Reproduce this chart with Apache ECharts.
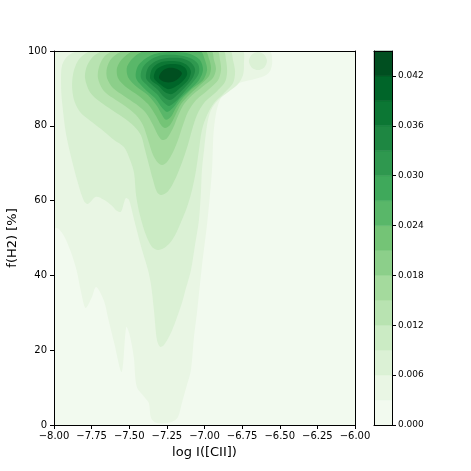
<!DOCTYPE html>
<html>
<head>
<meta charset="utf-8">
<script src="https://cdn.jsdelivr.net/npm/echarts@6/dist/echarts.min.js"></script>
<style>
  html, body { margin: 0; padding: 0; background: #fff; }
  #chart { width: 471px; height: 471px; }
</style>
</head>
<body>
<div id="chart"></div>
<script>
// contour levels (density), one band per pair of neighbouring levels
const levels = [0, 0.003, 0.006, 0.009, 0.012, 0.015, 0.018, 0.021, 0.024, 0.027, 0.030, 0.033, 0.036, 0.039, 0.042, 0.045]
const cbTicks = [0, 0.006, 0.012, 0.018, 0.024, 0.030, 0.036, 0.042]
const xTicks = [-8, -7.75, -7.5, -7.25, -7, -6.75, -6.5, -6.25, -6]

// Greens colormap, sampled at band midpoints
const bandColors = ['#f2faef', '#e9f6e4', '#dbf1d5', '#cbebc4', '#b8e3b1', '#a4da9d', '#8ccf8a', '#74c476',
  '#59b769', '#3fa95b', '#2f984f', '#1e8742', '#0c7734', '#006529', '#004f20']

// contour outlines: [log I([CII]), f(H2) %]
const level1 = [[-7.99, 100], [-6.57, 100], [-6.55, 97.6], [-6.56, 95.0], [-6.59, 93.6], [-6.66, 92.6], [-6.76, 91.6],
  [-6.84, 89.8], [-6.89, 87.5], [-6.92, 84.0], [-6.94, 78.0], [-6.95, 68.2], [-6.98, 54.8], [-7.02, 41.4], [-7.05, 30.0],
  [-7.07, 23.5], [-7.09, 14.7], [-7.12, 10.2], [-7.15, 5.9], [-7.18, 1.9], [-7.24, 0.6], [-7.32, 0.6], [-7.355, 1.9],
  [-7.37, 5.9], [-7.40, 7.5], [-7.45, 10.2], [-7.47, 18.2], [-7.50, 24.5], [-7.52, 26.2], [-7.55, 14.2], [-7.60, 21.9],
  [-7.64, 28.5], [-7.67, 33.4], [-7.72, 36.9], [-7.75, 34.0], [-7.79, 31.3], [-7.82, 35.5], [-7.85, 41.4], [-7.89, 46.5],
  [-7.93, 50.3], [-7.97, 52.5], [-8.0, 52.9], [-8.0, 97.0]]
const level2 = [[-7.83, 100], [-7.907, 98.7], [-7.947, 96.0], [-7.953, 90.9], [-7.947, 86.6], [-7.92, 77.8], [-7.88, 70.6],
  [-7.841, 64.7], [-7.801, 59.9], [-7.774, 59.1], [-7.721, 61.0], [-7.668, 60.2], [-7.615, 58.6], [-7.581, 57.2],
  [-7.555, 57.0], [-7.535, 59.4], [-7.522, 60.7], [-7.502, 60.2], [-7.475, 56.1], [-7.455, 52.9], [-7.415, 46.8],
  [-7.375, 41.4], [-7.355, 37.4], [-7.336, 30.7], [-7.316, 22.7], [-7.296, 20.9], [-7.269, 21.4], [-7.229, 24.1],
  [-7.189, 28.1], [-7.15, 32.6], [-7.123, 36.6], [-7.09, 41.4], [-7.063, 48.1], [-7.037, 54.8], [-7.023, 62.8],
  [-7.017, 68.2], [-7.003, 73.5], [-6.983, 80.2], [-6.957, 84.2], [-6.91, 86.9], [-6.844, 89.0], [-6.777, 91.2],
  [-6.744, 93.6], [-6.738, 96.5], [-6.751, 100]]
const level2Blob = [[-6.645, 99.7], [-6.603, 99.0], [-6.585, 97.3], [-6.603, 95.6], [-6.645, 94.9], [-6.687, 95.6],
  [-6.705, 97.3], [-6.687, 99.0]]
const level3 = [[-7.748, 100], [-7.827, 98.1], [-7.867, 94.9], [-7.88, 90.9], [-7.867, 86.9], [-7.827, 83.7],
  [-7.748, 81.0], [-7.668, 78.5], [-7.601, 76.2], [-7.535, 74.3], [-7.495, 70.9], [-7.468, 67.4], [-7.455, 61.5],
  [-7.429, 56.1], [-7.389, 50.8], [-7.349, 47.6], [-7.309, 46.8], [-7.269, 47.3], [-7.229, 48.7], [-7.189, 51.3],
  [-7.156, 54.3], [-7.116, 58.3], [-7.083, 62.8], [-7.056, 68.2], [-7.037, 73.5], [-7.017, 78.9], [-6.983, 82.9],
  [-6.937, 86.1], [-6.87, 88.8], [-6.811, 91.4], [-6.797, 94.4], [-6.811, 97.6], [-6.831, 100]]
const level4 = [[-7.668, 100], [-7.734, 98.7], [-7.781, 96.0], [-7.794, 92.8], [-7.761, 89.0], [-7.694, 86.4],
  [-7.615, 84.2], [-7.535, 82.1], [-7.468, 79.9], [-7.422, 77.5], [-7.395, 73.5], [-7.369, 69.5], [-7.342, 65.5],
  [-7.316, 62.3], [-7.289, 61.5], [-7.256, 62.0], [-7.223, 63.6], [-7.183, 66.8], [-7.143, 70.9], [-7.11, 74.9],
  [-7.083, 78.9], [-7.05, 82.9], [-6.997, 86.4], [-6.924, 89.0], [-6.864, 91.7], [-6.85, 94.4], [-6.857, 97.6],
  [-6.877, 100]]
const level5 = [[-7.601, 100], [-7.668, 98.4], [-7.701, 95.7], [-7.708, 92.8], [-7.674, 89.6], [-7.608, 87.4],
  [-7.528, 85.3], [-7.455, 82.9], [-7.409, 80.2], [-7.375, 76.2], [-7.342, 72.2], [-7.309, 70.1], [-7.282, 69.5],
  [-7.249, 70.3], [-7.209, 73.0], [-7.176, 76.2], [-7.143, 80.2], [-7.11, 83.7], [-7.056, 86.9], [-6.977, 89.6],
  [-6.91, 92.2], [-6.89, 94.9], [-6.897, 97.6], [-6.917, 100]]
const level6 = [[-7.535, 100], [-7.615, 98.1], [-7.648, 95.5], [-7.648, 92.8], [-7.608, 90.1], [-7.535, 88.0],
  [-7.455, 85.8], [-7.389, 83.4], [-7.342, 80.2], [-7.309, 77.5], [-7.282, 76.2], [-7.249, 76.7], [-7.209, 79.4],
  [-7.176, 82.6], [-7.136, 85.8], [-7.083, 88.2], [-7.01, 90.6], [-6.944, 92.8], [-6.924, 95.2], [-6.937, 97.6],
  [-6.957, 100]]
const level7 = [[-7.468, 100], [-7.541, 98.1], [-7.581, 95.5], [-7.575, 92.8], [-7.522, 90.4], [-7.442, 88.2],
  [-7.375, 85.8], [-7.322, 82.6], [-7.289, 80.2], [-7.262, 79.4], [-7.229, 80.2], [-7.196, 82.6], [-7.156, 85.8],
  [-7.096, 88.5], [-7.03, 90.9], [-6.97, 93.3], [-6.957, 95.5], [-6.97, 97.9], [-6.997, 100]]
const level8 = [[-7.395, 100], [-7.468, 98.4], [-7.515, 95.7], [-7.508, 93.0], [-7.455, 90.6], [-7.375, 88.2],
  [-7.316, 85.3], [-7.282, 82.9], [-7.256, 81.6], [-7.223, 82.4], [-7.189, 84.8], [-7.143, 87.4], [-7.076, 90.1],
  [-7.01, 92.2], [-6.983, 94.9], [-6.997, 97.6], [-7.03, 100]]
const level9 = [[-7.455, 92.8], [-7.442, 96.0], [-7.375, 98.4], [-7.296, 99.5], [-7.196, 99.7], [-7.096, 99.2],
  [-7.03, 97.6], [-7.01, 94.9], [-7.037, 92.2], [-7.096, 89.8], [-7.163, 87.2], [-7.209, 84.8], [-7.249, 83.7],
  [-7.282, 84.8], [-7.329, 87.4], [-7.395, 89.8]]
const level10 = [[-7.422, 92.8], [-7.409, 95.7], [-7.349, 97.9], [-7.276, 98.9], [-7.183, 98.9], [-7.096, 98.1],
  [-7.043, 96.5], [-7.037, 94.1], [-7.076, 91.7], [-7.136, 89.0], [-7.189, 86.6], [-7.236, 85.3], [-7.276, 86.4],
  [-7.316, 88.5], [-7.375, 90.6]]
const level11 = [[-7.389, 92.8], [-7.375, 95.5], [-7.322, 97.3], [-7.249, 98.1], [-7.163, 98.1], [-7.096, 97.1],
  [-7.063, 95.2], [-7.076, 93.0], [-7.123, 90.6], [-7.183, 88.2], [-7.229, 86.9], [-7.269, 87.7], [-7.309, 89.6],
  [-7.355, 91.2]]
const level12 = [[-7.362, 92.8], [-7.349, 95.2], [-7.302, 96.8], [-7.236, 97.3], [-7.163, 97.1], [-7.11, 96.0],
  [-7.09, 94.4], [-7.11, 92.2], [-7.163, 90.1], [-7.216, 88.5], [-7.262, 89.0], [-7.302, 90.6], [-7.342, 91.7]]
const level13 = [[-7.336, 92.8], [-7.322, 94.9], [-7.282, 96.0], [-7.223, 96.5], [-7.163, 96.3], [-7.123, 95.2],
  [-7.116, 93.6], [-7.15, 91.7], [-7.196, 90.4], [-7.243, 89.8], [-7.289, 90.9]]
const level14 = [[-7.302, 92.8], [-7.282, 94.6], [-7.236, 95.5], [-7.183, 95.2], [-7.15, 94.1], [-7.169, 92.8],
  [-7.216, 91.7], [-7.262, 91.7]]

// [band index, outline], drawn in this order
const contours = [
  [1, level1], [2, level2], [2, level2Blob], [3, level3], [4, level4], [5, level5], [6, level6], [7, level7],
  [8, level8], [9, level9], [10, level10], [11, level11], [12, level12], [13, level13], [14, level14],
]

const font = 'DejaVu Sans'
const minus = (v, d) => (v < 0 ? '\u2212' : '') + Math.abs(v).toFixed(d)

const chart = echarts.init(document.getElementById('chart'), null, { renderer: 'canvas' })

const frameAxis = { show: true, onZero: false, lineStyle: { color: '#000', width: 1 } }
const bare = {
  axisLine: frameAxis, axisTick: { show: false }, axisLabel: { show: false }, splitLine: { show: false }, z: 10,
}

const option = {
  animation: false,
  backgroundColor: '#fff',
  grid: [
    { left: 54, top: 51, width: 301, height: 374, show: true, backgroundColor: bandColors[0], borderWidth: 0,
      outerBoundsMode: 'none', containLabel: false },
    { left: 374, top: 51, width: 18, height: 374, outerBoundsMode: 'none', containLabel: false },
  ],
  xAxis: [
    {
      gridIndex: 0, type: 'value', min: -8, max: -6, interval: 0.25, position: 'bottom', z: 10,
      name: 'log I([CII])', nameLocation: 'middle', nameGap: 20,
      nameTextStyle: { fontFamily: font, fontSize: 13, color: '#000' },
      axisLine: frameAxis,
      axisTick: { show: true, length: 4, lineStyle: { color: '#000' } },
      axisLabel: { fontFamily: font, fontSize: 10, color: '#000', margin: 6, formatter: (v) => minus(v, 2),
        customValues: xTicks },
      splitLine: { show: false },
    },
    { gridIndex: 0, type: 'value', min: -8, max: -6, position: 'top', ...bare },
    { gridIndex: 1, type: 'value', min: 0, max: 1, position: 'bottom', ...bare },
    { gridIndex: 1, type: 'value', min: 0, max: 1, position: 'top', ...bare },
  ],
  yAxis: [
    {
      gridIndex: 0, type: 'value', min: 0, max: 100, interval: 20, position: 'left', z: 10,
      name: 'f(H2) [%]', nameLocation: 'middle', nameGap: 35, nameMoveOverlap: false,
      nameTextStyle: { fontFamily: font, fontSize: 13, color: '#000' },
      axisLine: frameAxis,
      axisTick: { show: true, length: 4, lineStyle: { color: '#000' } },
      axisLabel: { fontFamily: font, fontSize: 10, color: '#000', margin: 7 },
      splitLine: { show: false },
    },
    { gridIndex: 0, type: 'value', min: 0, max: 100, position: 'right', ...bare },
    {
      gridIndex: 1, type: 'value', min: 0, max: 0.045, position: 'right', z: 10,
      axisLine: frameAxis,
      axisTick: { show: true, length: 4, lineStyle: { color: '#000' }, customValues: cbTicks },
      axisLabel: { fontFamily: font, fontSize: 9, color: '#000', margin: 6, customValues: cbTicks,
        formatter: (v) => v.toFixed(3) },
      splitLine: { show: false },
    },
    { gridIndex: 1, type: 'value', min: 0, max: 0.045, position: 'left', ...bare },
  ],
  series: [
    {
      type: 'custom',
      xAxisIndex: 0,
      yAxisIndex: 0,
      clip: true,
      silent: true,
      data: contours.map((c) => c[1][0]),
      renderItem: (params, api) => {
        const [band, outline] = contours[params.dataIndex]
        return {
          type: 'polygon',
          shape: { points: outline.map((p) => api.coord(p)), smooth: 0.3 },
          style: { fill: bandColors[band], stroke: null },
        }
      },
    },
    {
      type: 'custom',
      xAxisIndex: 2,
      yAxisIndex: 2,
      silent: true,
      data: levels.slice(0, -1).map((lo, i) => [0, lo, levels[i + 1]]),
      renderItem: (params, api) => {
        const p0 = api.coord([0, api.value(1)])
        const p1 = api.coord([1, api.value(2)])
        return {
          type: 'rect',
          shape: { x: p0[0], y: p1[1], width: p1[0] - p0[0], height: p0[1] - p1[1] },
          style: { fill: bandColors[params.dataIndex], stroke: bandColors[params.dataIndex], lineWidth: 0.5 },
        }
      },
    },
  ],
}

chart.setOption(option)
</script>
</body>
</html>
